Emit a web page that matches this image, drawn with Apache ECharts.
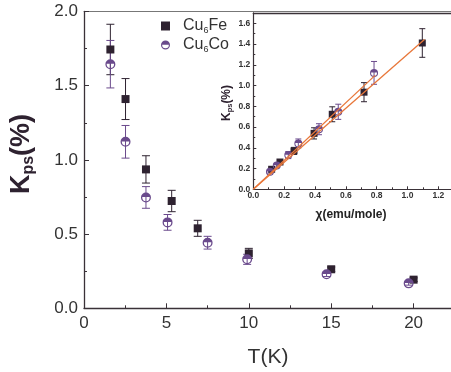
<!DOCTYPE html>
<html>
<head>
<meta charset="utf-8">
<script src="https://cdn.jsdelivr.net/npm/echarts@6/dist/echarts.min.js"></script>
<style>html,body{margin:0;padding:0;background:#fff;}#c{width:451px;height:372px;}</style>
</head>
<body>
<div id="c"></div>
<script>
// ---- Main panel data: Kps(%) vs T(K) ----
const T_fe = [1.6, 2.52, 3.76, 5.32, 6.9, 10.0, 15.0, 20.0];
const K_fe = [1.744, 1.41, 0.936, 0.723, 0.539, 0.37, 0.263, 0.193];
const E_fe = [0.17, 0.138, 0.092, 0.072, 0.054, 0.034, 0.015, 0.012];
const T_co = [1.6, 2.52, 3.76, 5.07, 7.5, 9.9, 14.72, 19.7];
const K_co = [1.645, 1.122, 0.747, 0.579, 0.442, 0.33, 0.229, 0.168];
const E_co = [0.16, 0.11, 0.073, 0.053, 0.043, 0.034, 0.015, 0.012];
// ---- Inset data: Kps(%) vs chi(emu/mole), points 2..8 of the main panel ----
const chi_fe = [1.096, 0.718, 0.512, 0.394, 0.264, 0.173, 0.119];
const chi_co = [0.783, 0.551, 0.426, 0.292, 0.227, 0.152, 0.108];
// linear fits through origin
const fit_fe = [[0, 0], [1.11, 1.443]];
const fit_co = [[0, 0], [0.79, 1.098]];
// tick values
const mainXTicks = [0, 5, 10, 15, 20];
const mainYTicks = [0.0, 0.5, 1.0, 1.5, 2.0];
const seriesNames = ['Cu6Fe', 'Cu6Co'];

const FE = '#2e2230', CO = '#6a4a8c', ORANGE = '#e8773a', AX = '#3a3238', TXT = '#333';
const FONT = '"Liberation Sans", Arial, Helvetica, sans-serif';
const HALF = 'path://M0,10A10,10,0,1,1,20,10A10,10,0,1,1,0,10ZM2.6,10A7.4,7.4,0,1,0,17.4,10A7.4,7.4,0,1,0,2.6,10ZM2.6,9.2A7.4,7.4,0,0,1,17.4,9.2Z';

function errRender(cap, color) {
  return function (params, api) {
    const x = api.value(0), y = api.value(1), e = api.value(2);
    const t = api.coord([x, y + e]), b = api.coord([x, y - e]);
    const st = { stroke: color, lineWidth: 1 };
    return { type: 'group', children: [
      { type: 'line', shape: { x1: t[0], y1: t[1], x2: b[0], y2: b[1] }, style: st },
      { type: 'line', shape: { x1: t[0] - cap, y1: t[1], x2: t[0] + cap, y2: t[1] }, style: st },
      { type: 'line', shape: { x1: b[0] - cap, y1: b[1], x2: b[0] + cap, y2: b[1] }, style: st }
    ]};
  };
}
const zip2 = (a, b) => a.map((v, i) => [v, b[i]]);
const zip3 = (a, b, c) => a.map((v, i) => [v, b[i], c[i]]);

const chart = echarts.init(document.getElementById('c'), null, { renderer: 'canvas' });
const mainX0 = 84, mainXs = 16.48, mainYtop = 11.5, mainH = 296.8;
const insL = 253.3, insXs = 154.2, insTop = 12.9, insH = 176.4;

const option = {
  animation: false,
  backgroundColor: '#fff',
  textStyle: { fontFamily: FONT },
  grid: [
    { left: mainX0, top: mainYtop, width: 25 * mainXs, height: mainH, outerBoundsMode: 'none', containLabel: false },
    { left: insL, top: insTop, width: 1.4 * insXs, height: insH, show: true, backgroundColor: '#fff', borderWidth: 0, outerBoundsMode: 'none', containLabel: false }
  ],
  legend: {
    data: seriesNames,
    orient: 'vertical', left: 156, top: 13, itemGap: 2,
    itemWidth: 9, itemHeight: 9,
    formatter: n => n.replace('6', '{s|6}'),
    textStyle: { fontSize: 16, color: TXT, fontFamily: FONT, padding: [0, 0, 0, 8],
      rich: { s: { fontSize: 9, color: TXT, fontFamily: FONT, padding: [9, 0, 0, 0] } } }
  },
  xAxis: [
    { gridIndex: 0, type: 'value', min: 0, max: 25, interval: 5, position: 'bottom',
      axisLine: { onZero: false, lineStyle: { color: AX, width: 1.3 } },
      axisTick: { inside: true, length: 5, lineStyle: { color: AX } },
      minorTick: { show: true, splitNumber: 2, length: 3, lineStyle: { color: AX } },
      splitLine: { show: false },
      axisLabel: { fontSize: 17, color: TXT, margin: 7, fontFamily: FONT,
        formatter: v => mainXTicks.includes(v) ? String(v) : '' } },
    { gridIndex: 0, type: 'value', min: 0, max: 25, position: 'top',
      axisLine: { onZero: false, lineStyle: { color: '#777', width: 1 } },
      axisTick: { show: false }, axisLabel: { show: false }, splitLine: { show: false } },
    { gridIndex: 1, type: 'value', min: 0, max: 1.4, interval: 0.2, position: 'bottom',
      axisLine: { onZero: false, lineStyle: { color: AX, width: 1.2 } },
      axisTick: { inside: true, length: 3, lineStyle: { color: AX } },
      minorTick: { show: true, splitNumber: 2, length: 2, lineStyle: { color: AX } },
      splitLine: { show: false },
      axisLabel: { fontSize: 8.5, fontWeight: 'bold', color: TXT, margin: 2, fontFamily: FONT,
        formatter: v => v <= 1.2001 ? v.toFixed(1) : '' } },
    { gridIndex: 1, type: 'value', min: 0, max: 1.4, position: 'top',
      axisLine: { onZero: false, lineStyle: { color: AX, width: 1.3 } },
      axisTick: { show: false }, axisLabel: { show: false }, splitLine: { show: false } }
  ],
  yAxis: [
    { gridIndex: 0, type: 'value', min: 0, max: 2.0, interval: 0.5,
      axisLine: { show: true, onZero: false, lineStyle: { color: AX, width: 1.3 } },
      axisTick: { show: true, inside: true, length: 5, lineStyle: { color: AX } },
      minorTick: { show: true, splitNumber: 2, length: 3, lineStyle: { color: AX } },
      splitLine: { show: false },
      axisLabel: { fontSize: 17, color: TXT, margin: 6, fontFamily: FONT,
        formatter: v => mainYTicks.some(t => Math.abs(t - v) < 1e-6) ? v.toFixed(1) : '' } },
    { gridIndex: 1, type: 'value', min: 0, max: 1.7, interval: 0.2,
      axisLine: { show: true, onZero: false, lineStyle: { color: AX, width: 1.2 } },
      axisTick: { show: true, inside: true, length: 3, lineStyle: { color: AX } },
      minorTick: { show: true, splitNumber: 2, length: 2, lineStyle: { color: AX } },
      splitLine: { show: false },
      axisLabel: { fontSize: 8.5, fontWeight: 'bold', color: TXT, margin: 3, fontFamily: FONT, showMaxLabel: false,
        formatter: v => v.toFixed(1) } }
  ],
  series: [
    { type: 'custom', name: 'errFe', xAxisIndex: 0, yAxisIndex: 0, renderItem: errRender(4, FE),
      data: zip3(T_fe, K_fe, E_fe), encode: { x: 0, y: 1 }, z: 2, silent: true },
    { type: 'custom', name: 'errCo', xAxisIndex: 0, yAxisIndex: 0, renderItem: errRender(4, CO),
      data: zip3(T_co, K_co, E_co), encode: { x: 0, y: 1 }, z: 2, silent: true },
    { type: 'scatter', name: 'Cu6Fe', xAxisIndex: 0, yAxisIndex: 0, symbol: 'rect', symbolSize: 8,
      itemStyle: { color: FE, opacity: 1 }, data: zip2(T_fe, K_fe), z: 3 },
    { type: 'scatter', name: 'Cu6Co', xAxisIndex: 0, yAxisIndex: 0, symbol: HALF, symbolSize: 10,
      itemStyle: { color: CO, opacity: 1 }, data: zip2(T_co, K_co), z: 4 },
    // inset
    { type: 'custom', name: 'ierrFe', xAxisIndex: 2, yAxisIndex: 1, renderItem: errRender(3, FE),
      data: zip3(chi_fe, K_fe.slice(1), E_fe.slice(1)), encode: { x: 0, y: 1 }, z: 5, silent: true },
    { type: 'custom', name: 'ierrCo', xAxisIndex: 2, yAxisIndex: 1, renderItem: errRender(3, CO),
      data: zip3(chi_co, K_co.slice(1), E_co.slice(1)), encode: { x: 0, y: 1 }, z: 5, silent: true },
    { type: 'scatter', name: 'iFe', xAxisIndex: 2, yAxisIndex: 1, symbol: 'rect', symbolSize: 7,
      itemStyle: { color: FE, opacity: 1 }, data: zip2(chi_fe, K_fe.slice(1)), z: 6 },
    { type: 'scatter', name: 'iCo', xAxisIndex: 2, yAxisIndex: 1, symbol: HALF, symbolSize: 8,
      itemStyle: { color: CO, opacity: 1 }, data: zip2(chi_co, K_co.slice(1)), z: 6 },
    { type: 'line', name: 'fitFe', xAxisIndex: 2, yAxisIndex: 1, data: fit_fe, showSymbol: false, symbol: 'none',
      lineStyle: { color: ORANGE, width: 1.3 }, z: 7, silent: true },
    { type: 'line', name: 'fitCo', xAxisIndex: 2, yAxisIndex: 1, data: fit_co, showSymbol: false, symbol: 'none',
      lineStyle: { color: ORANGE, width: 1.3 }, z: 7, silent: true }
  ],
  graphic: [
    { type: 'text', x: 22, y: 154, rotation: Math.PI / 2, z: 10,
      style: { text: '{k|K}{s|ps}{k|(%)}', align: 'center', verticalAlign: 'middle', fill: FE,
        rich: { k: { fontSize: 27, fontWeight: 'bold', fontFamily: FONT, fill: FE },
                s: { fontSize: 16, fontWeight: 'bold', fontFamily: FONT, fill: FE, padding: [14, 0, 0, 0] } } } },
    { type: 'text', x: 268, y: 357, z: 10,
      style: { text: 'T(K)', align: 'center', verticalAlign: 'middle', fill: TXT,
        font: '21px ' + FONT } },
    { type: 'text', x: 227, y: 103, rotation: Math.PI / 2, z: 10,
      style: { text: '{k|K}{s|ps}{k|(%)}', align: 'center', verticalAlign: 'middle', fill: FE,
        rich: { k: { fontSize: 12, fontWeight: 'bold', fontFamily: FONT, fill: FE },
                s: { fontSize: 7.5, fontWeight: 'bold', fontFamily: FONT, fill: FE, padding: [6, 0, 0, 0] } } } },
    { type: 'text', x: 351, y: 215, z: 10,
      style: { text: 'χ(emu/mole)', align: 'center', verticalAlign: 'middle', fill: '#222',
        font: 'bold 12px ' + FONT } }
  ]
};
chart.setOption(option);
</script>
</body>
</html>
